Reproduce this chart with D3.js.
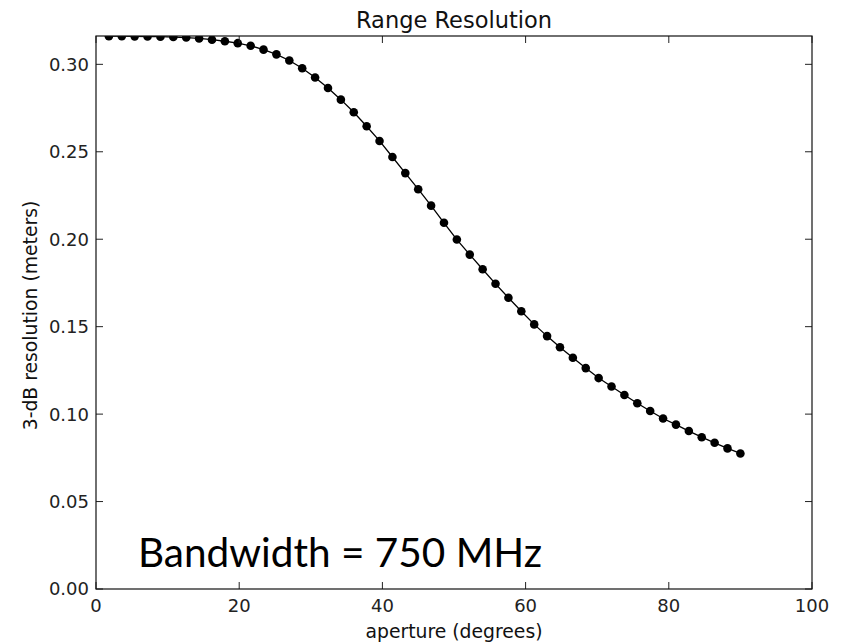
<!DOCTYPE html>
<html>
<head>
<meta charset="utf-8">
<script src="https://cdn.jsdelivr.net/npm/d3@7.9.0/dist/d3.min.js"></script>
<style>
  html, body { margin: 0; padding: 0; background: #fff; }
  svg { display: block; font-family: "DejaVu Sans", sans-serif; }
  .tick-label { font-size: 18px; fill: #222; }
</style>
</head>
<body>
<div id="chart"></div>
<script>
// aperture (degrees)
const aperture = [
  1.8, 3.6, 5.4, 7.2, 9.0, 10.8, 12.6, 14.4, 16.2, 18.0,
  19.8, 21.6, 23.4, 25.2, 27.0, 28.8, 30.6, 32.4, 34.2, 36.0,
  37.8, 39.6, 41.4, 43.2, 45.0, 46.8, 48.6, 50.4, 52.2, 54.0,
  55.8, 57.6, 59.4, 61.2, 63.0, 64.8, 66.6, 68.4, 70.2, 72.0,
  73.8, 75.6, 77.4, 79.2, 81.0, 82.8, 84.6, 86.4, 88.2, 90.0
];
// 3-dB resolution (meters)
const resolution = [
  0.3161, 0.3161, 0.3160, 0.3159, 0.3158, 0.3156, 0.3153, 0.3148, 0.3141, 0.3132,
  0.3121, 0.3106, 0.3084, 0.3057, 0.3022, 0.2978, 0.2925, 0.2865, 0.2798, 0.2726,
  0.2646, 0.2562, 0.2470, 0.2378, 0.2286, 0.2192, 0.2094, 0.1998, 0.1912, 0.1828,
  0.1745, 0.1665, 0.1588, 0.1513, 0.1446, 0.1382, 0.1322, 0.1263, 0.1206, 0.1158,
  0.1109, 0.1062, 0.1018, 0.0975, 0.0940, 0.0903, 0.0868, 0.0836, 0.0804, 0.0775
];
const xTicks = [0, 20, 40, 60, 80, 100];
const yTicks = [0.00, 0.05, 0.10, 0.15, 0.20, 0.25, 0.30];
const xDomain = [0, 100];
const yDomain = [0, 0.3162];

const title = 'Range Resolution';
const xLabel = 'aperture (degrees)';
const yLabel = '3-dB resolution (meters)';
const note = 'Bandwidth = 750 MHz';

const width = 842;
const height = 644;
const area = { left: 96, right: 812, top: 36, bottom: 589 };

const points = aperture.map((a, i) => ({ a, r: resolution[i] }));

const x = d3.scaleLinear().domain(xDomain).range([area.left, area.right]);
const y = d3.scaleLinear().domain(yDomain).range([area.bottom, area.top]);

const svg = d3.select('#chart')
  .append('svg')
  .attr('width', width)
  .attr('height', height);

svg.append('defs')
  .append('clipPath')
  .attr('id', 'plot-clip')
  .append('rect')
  .attr('x', area.left)
  .attr('y', area.top)
  .attr('width', area.right - area.left)
  .attr('height', area.bottom - area.top);

// data
const plot = svg.append('g').attr('clip-path', 'url(#plot-clip)');

plot.append('path')
  .datum(points)
  .attr('fill', 'none')
  .attr('stroke', '#000')
  .attr('stroke-width', 1.3)
  .attr('d', d3.line().x((d) => x(d.a)).y((d) => y(d.r)));

plot.selectAll('circle')
  .data(points)
  .join('circle')
  .attr('cx', (d) => x(d.a))
  .attr('cy', (d) => y(d.r))
  .attr('r', 4.3)
  .attr('fill', '#000');

// ticks inside, on all four sides (classic matplotlib)
const tickLen = 7;
const ticks = svg.append('g').attr('stroke', '#222').attr('stroke-width', 1);

ticks.selectAll('.xb')
  .data(xTicks)
  .join('line')
  .attr('class', 'xb')
  .attr('x1', (d) => x(d)).attr('x2', (d) => x(d))
  .attr('y1', area.bottom).attr('y2', area.bottom - tickLen);
ticks.selectAll('.xt')
  .data(xTicks)
  .join('line')
  .attr('class', 'xt')
  .attr('x1', (d) => x(d)).attr('x2', (d) => x(d))
  .attr('y1', area.top).attr('y2', area.top + tickLen);
ticks.selectAll('.yl')
  .data(yTicks)
  .join('line')
  .attr('class', 'yl')
  .attr('x1', area.left).attr('x2', area.left + tickLen)
  .attr('y1', (d) => y(d)).attr('y2', (d) => y(d));
ticks.selectAll('.yr')
  .data(yTicks)
  .join('line')
  .attr('class', 'yr')
  .attr('x1', area.right).attr('x2', area.right - tickLen)
  .attr('y1', (d) => y(d)).attr('y2', (d) => y(d));

// frame
svg.append('rect')
  .attr('x', area.left)
  .attr('y', area.top)
  .attr('width', area.right - area.left)
  .attr('height', area.bottom - area.top)
  .attr('fill', 'none')
  .attr('stroke', '#111')
  .attr('stroke-width', 1.2);

// tick labels
svg.append('g')
  .selectAll('text')
  .data(xTicks)
  .join('text')
  .attr('class', 'tick-label')
  .attr('x', (d) => x(d))
  .attr('y', area.bottom + 23)
  .attr('text-anchor', 'middle')
  .text((d) => d);

svg.append('g')
  .selectAll('text')
  .data(yTicks)
  .join('text')
  .attr('class', 'tick-label')
  .attr('x', area.left - 7)
  .attr('y', (d) => y(d))
  .attr('dy', '0.36em')
  .attr('text-anchor', 'end')
  .text((d) => d3.format('.2f')(d));

// titles
svg.append('text')
  .attr('x', (area.left + area.right) / 2)
  .attr('y', 28)
  .attr('text-anchor', 'middle')
  .style('font-size', '22.5px')
  .attr('fill', '#111')
  .text(title);

svg.append('text')
  .attr('x', (area.left + area.right) / 2)
  .attr('y', 638)
  .attr('text-anchor', 'middle')
  .style('font-size', '18.8px')
  .attr('fill', '#111')
  .text(xLabel);

svg.append('text')
  .attr('transform', `translate(37, ${(area.top + area.bottom) / 2 + 3}) rotate(-90)`)
  .attr('text-anchor', 'middle')
  .style('font-size', '18.8px')
  .attr('fill', '#111')
  .text(yLabel);

// annotation
svg.append('text')
  .attr('x', 138)
  .attr('y', 567)
  .style('font-family', 'Lato, "Open Sans", sans-serif')
  .style('font-size', '40.5px')
  .attr('fill', '#000')
  .text(note);
</script>
</body>
</html>
